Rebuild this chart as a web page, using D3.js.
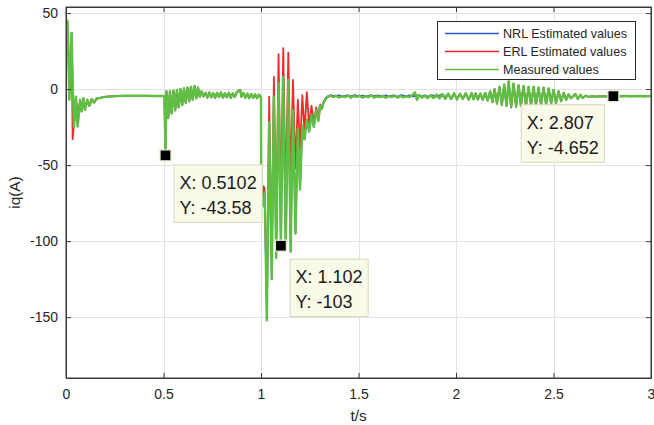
<!DOCTYPE html>
<html>
<head>
<meta charset="utf-8">
<script src="https://cdn.jsdelivr.net/npm/d3@7"></script>
<style>
  html, body { margin: 0; padding: 0; background: #fff; }
  svg { display: block; font-family: "Liberation Sans", Arial, Helvetica, sans-serif; }
</style>
</head>
<body>
<svg id="chart" width="654" height="425"></svg>
<script>
// ---- axis ticks ----
const xTicks = [0, 0.5, 1, 1.5, 2, 2.5, 3];
const xTickLabels = ["0", "0.5", "1", "1.5", "2", "2.5", "3"];
const yTicks = [50, 0, -50, -100, -150];
const yTickLabels = ["50", "0", "-50", "-100", "-150"];

// ---- series names ----
const seriesNames = ["NRL Estimated values", "ERL Estimated values", "Measured values"];

// ---- measured iq (A) against t (s), piecewise ----
const measuredStart = [
  [0.000, 37], [0.0067, 45], [0.012, 25], [0.017, -7], [0.022, 10], [0.029, 37],
  [0.034, 5], [0.041, -25], [0.051, -5], [0.060, -24.6], [0.072, -7], [0.080, -14.7],
  [0.089, -6], [0.097, -13.6], [0.109, -7], [0.120, -11], [0.132, -6.6], [0.144, -8.8],
  [0.157, -6.2], [0.175, -5.8], [0.190, -5.3], [0.220, -4.9], [0.260, -4.6],
  [0.300, -4.4], [0.350, -4.4], [0.400, -4.4], [0.450, -4.5], [0.495, -4.5]
];
const measuredFault1 = [
  [0.500, -4.5], [0.505, -6], [0.5102, -43.58], [0.515, -1.5], [0.524, -19], [0.533, -1.5],
  [0.542, -16], [0.551, -1.0], [0.560, -14], [0.569, -0.5], [0.578, -12], [0.587, 0],
  [0.596, -10.5], [0.605, 0.5], [0.614, -9], [0.623, 1], [0.632, -8], [0.641, 1.5],
  [0.650, -7], [0.659, 2], [0.668, -6], [0.677, 1], [0.686, -5], [0.695, -1.5]
];
const measuredSettle = [
  [0.705, -4.8], [0.715, -2.4], [0.725, -5.6], [0.735, -2.2], [0.745, -5.4], [0.755, -2.6],
  [0.765, -5.8], [0.775, -2.4], [0.785, -5.2], [0.795, -2.2], [0.805, -5.6], [0.815, -2.8],
  [0.825, -5.4], [0.835, -2.4], [0.845, -5.8], [0.855, -2.8], [0.865, -5.2], [0.875, -2.2],
  [0.885, -1.0], [0.893, -0.6], [0.900, -5.0], [0.910, -2.6], [0.920, -5.8], [0.930, -3.0],
  [0.940, -6.0], [0.950, -3.2], [0.960, -5.8], [0.970, -3.4], [0.980, -6.0], [0.990, -3.6],
  [0.997, -5.0]
];
const measuredFault2 = [
  [1.000, -5.5], [1.001, -70], [1.008, -74], [1.014, -77], [1.019, -68], [1.030, -152],
  [1.042, -22], [1.055, -125], [1.066, -5], [1.078, -111], [1.090, 4], [1.102, -103],
  [1.114, 8], [1.127, -105], [1.140, 6], [1.152, -107], [1.164, -14], [1.177, -95],
  [1.189, -26], [1.200, -66], [1.212, -24], [1.223, -33], [1.235, -20], [1.247, -28],
  [1.259, -17], [1.271, -25], [1.283, -14], [1.294, -21], [1.304, -11], [1.312, -13],
  [1.322, -8.5], [1.332, -6.5], [1.342, -5.2]
];
const measuredSteady = [
  [1.355, -4.3], [1.370, -5.2], [1.385, -4.4], [1.400, -5.5], [1.415, -4.6], [1.430, -5.3],
  [1.445, -4.2], [1.460, -5.6], [1.475, -4.5], [1.490, -5.1], [1.505, -4.3], [1.520, -5.6],
  [1.535, -4.6], [1.550, -5.2], [1.565, -4.1], [1.580, -5.5], [1.595, -4.7], [1.610, -5.3],
  [1.625, -4.4], [1.640, -5.7], [1.655, -4.5], [1.670, -5.2], [1.685, -4.3], [1.700, -5.6],
  [1.715, -4.4], [1.730, -5.4], [1.745, -4.6], [1.760, -5.3], [1.775, -4.2], [1.790, -2.2],
  [1.800, -7.0], [1.810, -3.8], [1.825, -5.6], [1.840, -4.4], [1.855, -5.8], [1.870, -4.0],
  [1.885, -5.9], [1.900, -3.6], [1.915, -6.0], [1.930, -3.2], [1.945, -6.4], [1.960, -3.0],
  [1.975, -6.6], [1.990, -2.8], [2.005, -6.8], [2.020, -3.0], [2.035, -6.5], [2.050, -2.8],
  [2.065, -7.0], [2.080, -2.6], [2.090, -6.6]
];
const measuredSwing = [
  [2.100, -2.8], [2.112, -6.8], [2.125, -3.0], [2.137, -7.0], [2.150, -2.5], [2.162, -7.5],
  [2.175, -1.5], [2.187, -8.5], [2.198, 0], [2.210, -9.5], [2.223, 1.5], [2.235, -10.5],
  [2.247, 3], [2.259, -11], [2.270, 5], [2.283, -12], [2.295, 3.5], [2.308, -11.5],
  [2.321, 2.5], [2.333, -11], [2.346, 2], [2.359, -11], [2.372, 1.5], [2.385, -10.5],
  [2.398, 1.5], [2.410, -10.5], [2.423, 1], [2.436, -10], [2.449, 1], [2.462, -10],
  [2.475, 0.5], [2.488, -9.5], [2.500, -0.5], [2.513, -9], [2.526, -1.5], [2.539, -8],
  [2.552, -2.5], [2.565, -7], [2.577, -3.5], [2.590, -6]
];
const measuredTail = [
  [2.600, -4.8], [2.612, -3.2], [2.625, -6.5], [2.638, -3.8], [2.650, -5.8], [2.665, -4.3],
  [2.680, -5.2], [2.700, -4.6], [2.720, -5.0], [2.750, -4.6], [2.780, -4.8], [2.807, -4.652],
  [2.840, -4.7], [2.870, -4.5], [2.900, -4.7], [2.930, -4.5], [2.960, -4.7], [3.000, -4.6]
];

// ---- ERL estimate where it departs from the measurement ----
const erlStart = [
  [0.0067, 45], [0.012, 30], [0.017, -2], [0.022, 12], [0.029, 33], [0.034, -33],
  [0.041, -22], [0.051, -6], [0.060, -20], [0.067, -12], [0.072, -8]
];
const erlFault2 = [
  [1.000, -5.5], [1.001, -68], [1.008, -72], [1.014, -64], [1.019, -66], [1.030, -140],
  [1.042, -5], [1.055, -110], [1.066, 8], [1.078, -92], [1.090, 23], [1.102, -80],
  [1.114, 27], [1.127, -72], [1.140, 24], [1.152, -60], [1.164, 6], [1.177, -52],
  [1.189, -7], [1.200, -40], [1.212, -4], [1.223, -28], [1.235, -2], [1.247, -24],
  [1.259, -11], [1.271, -22], [1.283, -12], [1.294, -20], [1.304, -10], [1.312, -13]
];

// ---- NRL estimate where it departs from the measurement ----
const nrlSteady = [
  [1.300, -11], [1.312, -12], [1.322, -8], [1.332, -5.8], [1.345, -4.4], [1.360, -4.0],
  [1.380, -4.6], [1.400, -4.0], [1.420, -4.8], [1.440, -4.1], [1.460, -4.7], [1.480, -3.9],
  [1.500, -4.6], [1.520, -4.2], [1.540, -4.9], [1.560, -4.0], [1.580, -4.6], [1.600, -4.1],
  [1.620, -4.8], [1.640, -4.0], [1.660, -4.7], [1.680, -4.1], [1.700, -4.8], [1.720, -3.9],
  [1.740, -4.6], [1.760, -4.1], [1.780, -4.8], [1.800, -4.3], [1.820, -4.8], [1.840, -4.1],
  [1.860, -5.0], [1.880, -4.0], [1.900, -5.0], [1.920, -3.8], [1.940, -5.2], [1.960, -3.6]
];

// ---- data tips ----
const tipPoints = [[0.5102, -43.58], [1.102, -103], [2.807, -4.652]];
const tipLabels = [["X: 0.5102", "Y: -43.58"], ["X: 1.102", "Y: -103"], ["X: 2.807", "Y: -4.652"]];

// ---------------------------------------------------------------
const measured = [].concat(measuredStart, measuredFault1, measuredSettle, measuredFault2,
                           measuredSteady, measuredSwing, measuredTail);

// replace the base samples inside a segment's time span by the segment itself
function overlay(base, seg) {
  const t0 = seg[0][0], t1 = seg[seg.length - 1][0];
  return base.filter(d => d[0] < t0 || d[0] > t1).concat(seg).sort((a, b) => a[0] - b[0]);
}
const erl = overlay(overlay(measured, erlStart), erlFault2);
const nrl = overlay(measured, nrlSteady);

const colors = { nrl: "#2b57c8", erl: "#ee2a2a", meas: "#5fbf45" };

const svg = d3.select("#chart");
const L = 66, R = 651, T = 7, B = 378;
const x = d3.scaleLinear().domain([0, 3]).range([L, R]);
const y = d3.scaleLinear().domain([-190, 54]).range([B, T]);

// grid
const grid = svg.append("g").attr("stroke", "#e2e2e2").attr("stroke-width", 1);
grid.selectAll("line.gx").data(xTicks.slice(1, -1)).join("line")
  .attr("x1", d => Math.round(x(d)) + 0.5).attr("x2", d => Math.round(x(d)) + 0.5)
  .attr("y1", T).attr("y2", B);
grid.selectAll("line.gy").data(yTicks).join("line")
  .attr("y1", d => Math.round(y(d)) + 0.5).attr("y2", d => Math.round(y(d)) + 0.5)
  .attr("x1", L).attr("x2", R);

// curves
svg.append("defs").append("clipPath").attr("id", "plotclip")
  .append("rect").attr("x", L).attr("y", T).attr("width", R - L).attr("height", B - T);
const line = d3.line().x(d => x(d[0])).y(d => y(d[1]));
const curves = svg.append("g").attr("clip-path", "url(#plotclip)").attr("fill", "none")
  .attr("stroke-linejoin", "round");
curves.append("path").datum(nrl).attr("d", line).attr("stroke", colors.nrl).attr("stroke-width", 1.6);
curves.append("path").datum(erl).attr("d", line).attr("stroke", colors.erl).attr("stroke-width", 1.8);
curves.append("path").datum(measured).attr("d", line).attr("stroke", colors.meas).attr("stroke-width", 2.4);

// axes (inward ticks on all four sides)
const axisColor = "#3a3a3a";
function styleAxis(g) {
  g.select(".domain").attr("stroke", axisColor);
  g.selectAll(".tick line").attr("stroke", axisColor);
  g.selectAll(".tick text").attr("fill", "#262626").attr("font-size", 14);
}
svg.append("g").attr("transform", `translate(0,${B})`)
  .call(d3.axisBottom(x).tickValues(xTicks).tickSizeInner(-5).tickSizeOuter(0).tickPadding(11)
    .tickFormat((d, i) => xTickLabels[i]))
  .call(styleAxis);
svg.append("g").attr("transform", `translate(0,${T})`)
  .call(d3.axisTop(x).tickValues(xTicks).tickSizeInner(-5).tickSizeOuter(0).tickFormat(""))
  .call(styleAxis);
svg.append("g").attr("transform", `translate(${L},0)`)
  .call(d3.axisLeft(y).tickValues(yTicks).tickSizeInner(-5).tickSizeOuter(0).tickPadding(8)
    .tickFormat((d, i) => yTickLabels[i]))
  .call(styleAxis);
svg.append("g").attr("transform", `translate(${R},0)`)
  .call(d3.axisRight(y).tickValues(yTicks).tickSizeInner(-5).tickSizeOuter(0).tickFormat(""))
  .call(styleAxis);
svg.selectAll(".tick text").attr("font-family", null);
svg.append("rect").attr("x", L).attr("y", T).attr("width", R - L).attr("height", B - T)
  .attr("fill", "none").attr("stroke", axisColor);

// axis titles
svg.append("text").attr("x", (L + R) / 2).attr("y", 421).attr("text-anchor", "middle")
  .attr("font-size", 15.4).attr("fill", "#262626").text("t/s");
svg.append("text").attr("transform", `translate(20,${(T + B) / 2}) rotate(-90)`)
  .attr("text-anchor", "middle").attr("font-size", 15.4).attr("fill", "#262626").text("iq(A)");

// legend
const lg = svg.append("g");
lg.append("rect").attr("x", 437.5).attr("y", 21.5).attr("width", 198).attr("height", 58)
  .attr("fill", "#fff").attr("stroke", "#2a2a2a");
const legendColors = [colors.nrl, colors.erl, colors.meas];
seriesNames.forEach((name, i) => {
  const cy = 33.5 + i * 18;
  lg.append("line").attr("x1", 445).attr("x2", 499).attr("y1", cy).attr("y2", cy)
    .attr("stroke", legendColors[i]).attr("stroke-width", 1.6);
  lg.append("text").attr("x", 503).attr("y", cy + 4.5).attr("font-size", 12.6)
    .attr("fill", "#262626").text(name);
});

// data tips
const tipLayout = [
  { dx: 8.6, dy: 9.5, side: "right" },
  { dx: 9.2, dy: 13.4, side: "right" },
  { dx: 9.0, dy: 8.6, side: "left" }
];
tipPoints.forEach((p, i) => {
  const px = x(p[0]), py = y(p[1]);
  const g = svg.append("g");
  const box = g.append("rect").attr("fill", "#fafae9").attr("stroke", "#d6d6be").attr("stroke-width", 1);
  const t1 = g.append("text").attr("font-size", 18).attr("fill", "#1a1a1a").text(tipLabels[i][0]);
  const t2 = g.append("text").attr("font-size", 18).attr("fill", "#1a1a1a").text(tipLabels[i][1]);
  const w = Math.max(t1.node().getComputedTextLength(), t2.node().getComputedTextLength()) + 11;
  const h = 57.5;
  const lay = tipLayout[i];
  const bx = lay.side === "right" ? px + lay.dx : px - lay.dx - w;
  const by = py + lay.dy;
  box.attr("x", bx).attr("y", by).attr("width", w).attr("height", h);
  t1.attr("x", bx + 5.5).attr("y", by + 24.3);
  t2.attr("x", bx + 5.5).attr("y", by + 49);
  g.append("rect").attr("x", px - 5.5).attr("y", py - 5.5).attr("width", 11).attr("height", 11)
    .attr("fill", "#000").attr("stroke", "#ecebd0").attr("stroke-width", 1.3);
});
</script>
</body>
</html>
